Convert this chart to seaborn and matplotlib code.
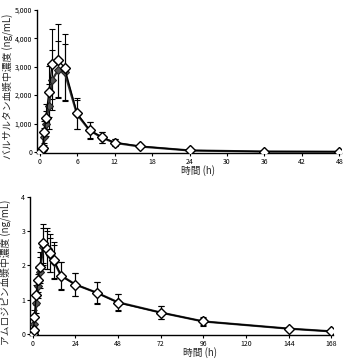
import matplotlib
matplotlib.use("Agg")
import matplotlib.pyplot as plt
import seaborn as sns
import pandas as pd
from matplotlib.ticker import FuncFormatter

# valsartan (top panel)
val_time = [0, 0.5, 0.75, 1, 1.5, 2, 3, 4, 6, 8, 10, 12, 16, 24, 36, 48]
val_open = [0, 120, 700, 1200, 2120, 3110, 3230, 2970, 1360, 770, 515, 330, 200, 50, 12, 5]
val_open_sd = [0, 60, 400, 500, 900, 1230, 1290, 1190, 540, 300, 200, 130, 60, 20, 5, 3]
val_fill = [0, 50, 540, 1000, 1600, 2530, 2900, 2820, 1320, 760, 500, 320, 190, 50, 10, 5]
val_fill_sd = [0, 30, 300, 450, 800, 1050, 1000, 1000, 500, 280, 190, 120, 55, 18, 5, 3]

# amlodipine (bottom panel)
aml_time = [0, 0.5, 1, 2, 3, 4, 6, 8, 10, 12, 16, 24, 36, 48, 72, 96, 144, 168]
aml_open = [0, 0.12, 0.49, 1.13, 1.57, 1.94, 2.64, 2.49, 2.37, 2.15, 1.69, 1.44, 1.2, 0.91, 0.62, 0.36, 0.15, 0.07]
aml_open_sd = [0, 0.06, 0.2, 0.3, 0.35, 0.45, 0.56, 0.6, 0.56, 0.52, 0.42, 0.35, 0.32, 0.24, 0.19, 0.12, 0.06, 0.03]
aml_fill = [0, 0.05, 0.3, 0.9, 1.4, 1.8, 2.55, 2.45, 2.3, 2.1, 1.7, 1.44, 1.2, 0.92, 0.62, 0.36, 0.15, 0.07]
aml_fill_sd = [0, 0.03, 0.15, 0.3, 0.35, 0.45, 0.55, 0.55, 0.5, 0.5, 0.4, 0.33, 0.3, 0.23, 0.18, 0.11, 0.06, 0.03]

sns.set_theme(style="ticks")
plt.rcParams['font.family'] = ['Noto Sans CJK JP', 'DejaVu Sans']

fig = plt.figure(figsize=(3.53, 3.6), dpi=100)
ax1 = fig.add_axes([0.105, 0.575, 0.862, 0.397])
ax2 = fig.add_axes([0.085, 0.070, 0.859, 0.383])


def draw(ax, t, yo, so, yf, sf):
    df = pd.DataFrame({"t": t, "open": yo, "fill": yf})
    ax.errorbar(t, yf, yerr=sf, fmt="none", ecolor="black", elinewidth=0.8,
                capsize=2.5, capthick=0.8, zorder=2)
    ax.errorbar(t, yo, yerr=so, fmt="none", ecolor="black", elinewidth=0.8,
                capsize=2.5, capthick=0.8, zorder=2)
    sns.lineplot(data=df, x="t", y="fill", ax=ax, color="#333333", lw=1.6,
                 marker="D", ms=4.2, mfc="#555555", mec="#222222", mew=0.8, zorder=3)
    sns.lineplot(data=df, x="t", y="open", ax=ax, color="black", lw=1.0,
                 marker="D", ms=4.8, mfc="white", mec="black", mew=1.0, zorder=4)


draw(ax1, val_time, val_open, val_open_sd, val_fill, val_fill_sd)
draw(ax2, aml_time, aml_open, aml_open_sd, aml_fill, aml_fill_sd)

ax1.set_xlim(-0.4, 48.3)
ax1.set_ylim(-40, 5000)
ax1.set_xticks(range(0, 49, 6))
ax1.set_yticks(range(0, 5001, 1000))
ax1.yaxis.set_major_formatter(FuncFormatter(lambda v, p: f"{int(v):,}"))
ax1.set_ylabel("バルサルタン血漿中濃度 (ng/mL)", fontsize=7)
ax1.set_xlabel("時間 (h)", fontsize=7)

ax2.set_xlim(-1.5, 169)
ax2.set_ylim(-0.03, 4)
ax2.set_xticks(range(0, 169, 24))
ax2.set_yticks(range(0, 5))
ax2.set_ylabel("アムロジピン血漿中濃度 (ng/mL)", fontsize=7)
ax2.set_xlabel("時間 (h)", fontsize=7)

for ax in (ax1, ax2):
    sns.despine(ax=ax)
    ax.tick_params(labelsize=5, length=2.5, width=0.8, pad=1, colors="black")
    for s in ("left", "bottom"):
        ax.spines[s].set_linewidth(1.0)
        ax.spines[s].set_color("black")

ax1.xaxis.set_label_coords(0.53, -0.085)
ax2.xaxis.set_label_coords(0.56, -0.09)
ax1.yaxis.set_label_coords(-0.075, 0.47)
ax2.yaxis.set_label_coords(-0.058, 0.45)

fig.savefig("out.png", dpi=100)
